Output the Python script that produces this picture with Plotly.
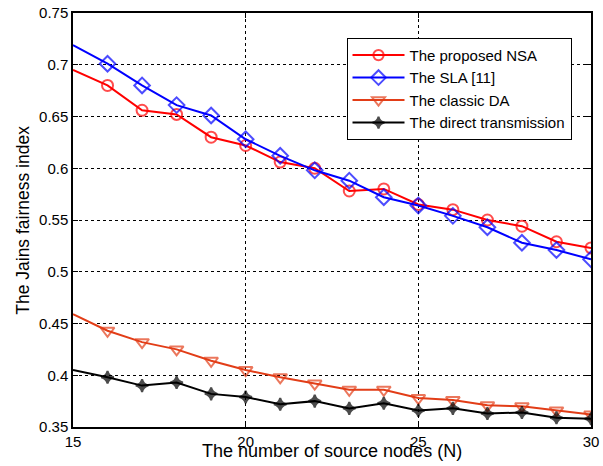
import plotly.graph_objects as go

# Number of source nodes
nodes = list(range(15, 31))

# Jain's fairness index for each scheme
nsa = [0.695, 0.680, 0.656, 0.652, 0.630, 0.622, 0.606, 0.600,
       0.578, 0.580, 0.565, 0.560, 0.550, 0.544, 0.529, 0.523]
sla = [0.719, 0.701, 0.680, 0.661, 0.651, 0.628, 0.612, 0.598,
       0.588, 0.572, 0.564, 0.554, 0.543, 0.528, 0.521, 0.512]
classic_da = [0.459, 0.443, 0.432, 0.425, 0.414, 0.405, 0.398, 0.392,
              0.386, 0.386, 0.378, 0.376, 0.371, 0.370, 0.366, 0.362]
direct = [0.405, 0.398, 0.390, 0.393, 0.382, 0.379, 0.372, 0.375,
          0.368, 0.373, 0.366, 0.368, 0.363, 0.364, 0.359, 0.358]

series_names = ["The proposed NSA", "The SLA [11]", "The classic DA",
                "The direct transmission"]

x_ticks = [15, 20, 25, 30]
y_ticks = [0.35, 0.4, 0.45, 0.5, 0.55, 0.6, 0.65, 0.7, 0.75]

styles = [
    dict(color="#FF0000", symbol="circle-open", size=11),
    dict(color="#0000FF", symbol="diamond-open", size=12),
    dict(color="#E23D17", symbol="triangle-down-open", size=12),
    dict(color="#000000", symbol="star-diamond", size=9),
]

fig = go.Figure()
for name, ys, st in zip(series_names, [nsa, sla, classic_da, direct], styles):
    # first sample sits on the left axis and carries no marker
    sizes = [0] + [st["size"]] * (len(nodes) - 1)
    fig.add_trace(go.Scatter(
        x=nodes, y=ys, name=name, mode="lines+markers",
        line=dict(color=st["color"], width=2),
        marker=dict(symbol=st["symbol"], size=sizes, color=st["color"],
                    line=dict(color=st["color"], width=2)),
    ))

axis_common = dict(
    showline=True, linecolor="black", linewidth=1.5, mirror="ticks",
    ticks="inside", ticklen=5, tickcolor="black", tickwidth=1,
    showgrid=True, gridcolor="black", griddash="dot", gridwidth=1,
    zeroline=False, ticklabeloverflow="allow",
    tickfont=dict(family="Liberation Sans, Arial", size=15, color="black"),
)

fig.update_xaxes(range=[15, 30], tickvals=x_ticks,
                 ticktext=[str(v) for v in x_ticks], **axis_common)
fig.update_yaxes(range=[0.35, 0.75], tickvals=y_ticks,
                 ticktext=[f"{v:g}" for v in y_ticks], **axis_common)

fig.add_annotation(text="The number of source nodes (N)", xref="paper", yref="paper",
                   x=0.5, y=-0.058, xanchor="center", yanchor="middle",
                   showarrow=False,
                   font=dict(family="Liberation Sans, Arial", size=18, color="black"))
fig.add_annotation(text="The Jains fairness index", xref="paper", yref="paper",
                   x=-0.097, y=0.5, xanchor="center", yanchor="middle",
                   textangle=-90, showarrow=False,
                   font=dict(family="Liberation Sans, Arial", size=17.5, color="black"))

fig.update_layout(
    width=603, height=466,
    margin=dict(l=73, r=4, t=12, b=39),
    paper_bgcolor="white", plot_bgcolor="white",
    showlegend=True,
    legend=dict(x=0.528, y=0.94, xanchor="left", yanchor="top",
                bgcolor="white", bordercolor="black", borderwidth=1,
                font=dict(family="Liberation Sans, Arial", size=15, color="black"),
                itemwidth=52, tracegroupgap=0),
)

fig.write_html("out.html")
